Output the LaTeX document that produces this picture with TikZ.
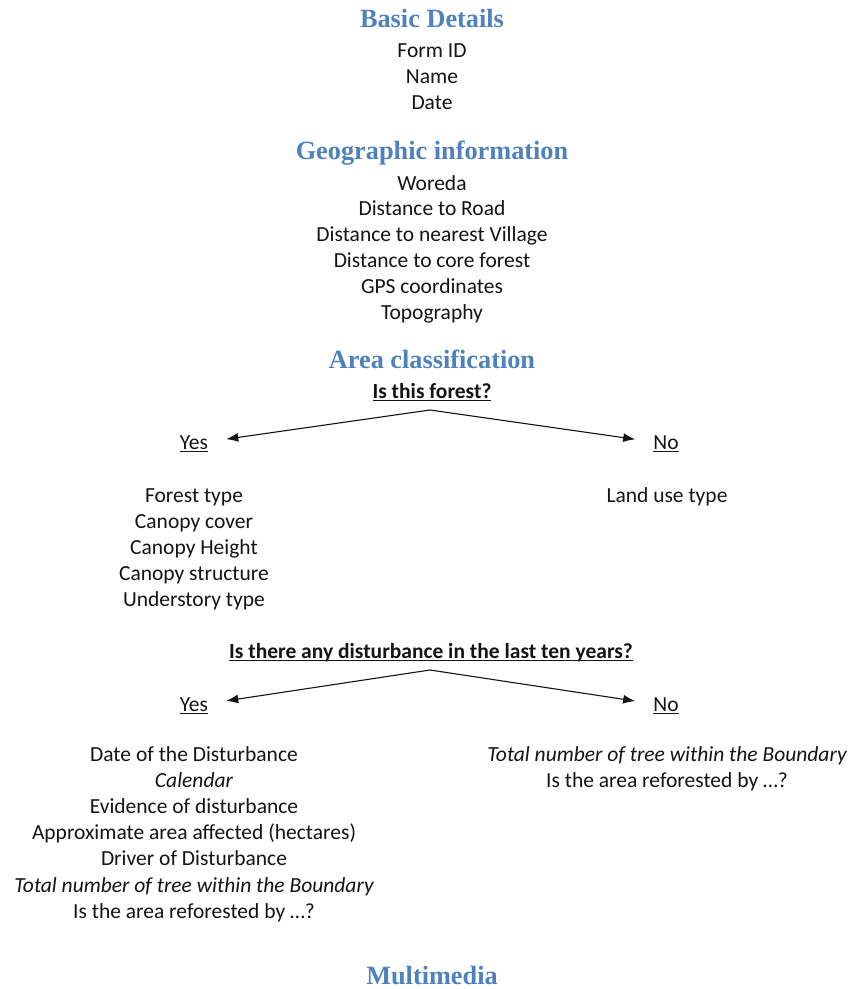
\documentclass[tikz,border=0pt]{standalone}
\usepackage{fontspec}
\setmainfont{Carlito}
\newfontfamily\headfont{Liberation Serif}
\usetikzlibrary{arrows.meta}
\definecolor{headblue}{RGB}{79,129,189}
\definecolor{bodytext}{RGB}{20,20,20}
% thicker underline for the question and choice labels
\newcommand{\ul}[1]{\setbox0=\hbox{#1}\leavevmode\rlap{\raisebox{-3.2pt}{\rule{\wd0}{1.3pt}}}\box0}
\begin{document}
\begin{tikzpicture}[x=1pt,y=-1pt,
  heading/.style={anchor=base,inner sep=0pt,text=headblue,font=\headfont\bfseries\fontsize{26.3}{30}\selectfont},
  item/.style={anchor=base,inner sep=0pt,text=bodytext,font=\fontsize{21.5}{26}\selectfont},
  question/.style={anchor=base,inner sep=0pt,text=bodytext,font=\bfseries\fontsize{21.5}{26}\selectfont},
  choice/.style={anchor=base,inner ysep=0pt,inner xsep=18pt,text=bodytext,font=\fontsize{21.5}{26}\selectfont},
  arr/.style={draw=bodytext,line width=1.1pt,-{Latex[length=12pt,width=9pt]}}]
\useasboundingbox[fill=white] (0,0) rectangle (851,989);

% Basic details
\node[heading] (hbasic) at (432,27) {Basic Details};
\node[item] (formid) at (432,57) {Form ID};
\node[item] (name) at (432,83) {Name};
\node[item] (date) at (432,109) {Date};

% Geographic information
\node[heading] (hgeo) at (432,159) {Geographic information};
\node[item] (woreda) at (432,190) {Woreda};
\node[item] (droad) at (432,215) {Distance to Road};
\node[item] (dvillage) at (432,241) {Distance to nearest Village};
\node[item] (dcore) at (432,267) {Distance to core forest};
\node[item] (gps) at (432,293) {GPS coordinates};
\node[item] (topo) at (432,319) {Topography};

% Area classification
\node[heading] (harea) at (432,368) {Area classification};
\node[question] (qforest) at (432,398) {\ul{Is this forest?}};
\coordinate (qforestsplit) at (430,410);
\node[choice] (yes1) at (194,449) {\ul{Yes}};
\node[choice] (no1) at (666,449) {\ul{No}};
\draw[arr] (qforestsplit) -- (yes1);
\draw[arr] (qforestsplit) -- (no1);

\node[item] (ftype) at (194,502) {Forest type};
\node[item] (ccover) at (194,528) {Canopy cover};
\node[item] (cheight) at (194,554) {Canopy Height};
\node[item] (cstruct) at (194,580) {Canopy structure};
\node[item] (under) at (194,606) {Understory type};
\node[item] (landuse) at (667,502) {Land use type};

% Disturbance
\node[question] (qdist) at (431,658) {\ul{Is there any disturbance in the last ten years?}};
\coordinate (qdistsplit) at (430,670);
\node[choice] (yes2) at (194,711) {\ul{Yes}};
\node[choice] (no2) at (666,711) {\ul{No}};
\draw[arr] (qdistsplit) -- (yes2);
\draw[arr] (qdistsplit) -- (no2);

\node[item] (ddate) at (194,761) {Date of the Disturbance};
\node[item] (dcal) at (194,787) {\itshape Calendar};
\node[item] (devid) at (194,813) {Evidence of disturbance};
\node[item] (darea) at (194,839) {Approximate area affected (hectares)};
\node[item] (ddriver) at (194,865) {Driver of Disturbance};
\node[item] (dtrees) at (194,892) {\itshape Total number of tree within the Boundary};
\node[item] (drefor) at (194,918) {Is the area reforested by …?};
\node[item] (ntrees) at (667,761) {\itshape Total number of tree within the Boundary};
\node[item] (nrefor) at (667,787) {Is the area reforested by …?};

% Multimedia
\node[heading] (hmedia) at (432,984) {Multimedia};
\end{tikzpicture}
\end{document}
